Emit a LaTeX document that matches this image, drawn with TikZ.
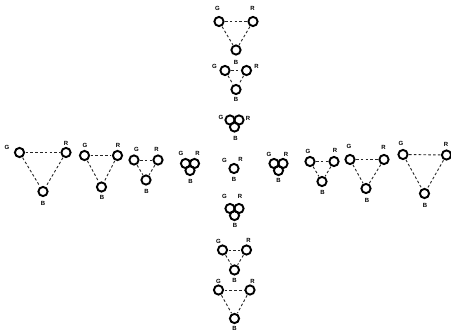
\documentclass[tikz,border=0pt]{standalone}
\usepackage{fontspec}
\setmainfont{Liberation Sans}
\begin{document}
\begin{tikzpicture}[x=1pt,y=-1pt,
  ring/.style={circle,draw=black,line width=1.9pt,minimum size=9.2pt,inner sep=0pt},
  lab/.style={inner sep=0pt,font=\fontsize{6}{6}\selectfont\bfseries},
  link/.style={draw=black!85,line width=0.9pt,dash pattern=on 2.6pt off 2.2pt,shorten <=0.5pt,shorten >=0.5pt}]
\useasboundingbox (0,0) rectangle (451,333);
\newcommand\trioset[7]{%
  \node[ring] (#1g) at (#2) {};
  \node[ring] (#1r) at (#3) {};
  \node[ring] (#1b) at (#4) {};
  \node[lab] (#1lg) at (#5) {G};
  \node[lab] (#1lr) at (#6) {R};
  \node[lab] (#1lb) at (#7) {B};
  \draw[link] (#1g) -- (#1r);
  \draw[link] (#1g) -- (#1b);
  \draw[link] (#1r) -- (#1b);}
\newcommand\clumpset[7]{%
  \node[ring] (#1g) at (#2) {};
  \node[ring] (#1r) at (#3) {};
  \node[ring] (#1b) at (#4) {};
  \node[lab] (#1lg) at (#5) {G};
  \node[lab] (#1lr) at (#6) {R};
  \node[lab] (#1lb) at (#7) {B};}
% horizontal row
\trioset{ha}{19.5,152.5}{66,152.5}{43,191.5}{7,147}{66,143.5}{43,203}
\trioset{hb}{84.5,155.5}{117.5,155.5}{101.5,187}{85,145}{118,145}{102,197.5}
\trioset{hc}{134,160}{158,160}{146,180}{136.5,149.5}{156.5,149.5}{146.5,191}
\clumpset{hd}{185.5,163.5}{194.5,163.5}{190,170.5}{181,153.5}{197.5,153.5}{190.5,181}
\node[ring] (cc) at (234,168.5) {};
\node[lab] (ccg) at (224.5,160.5) {G};
\node[lab] (ccr) at (240.5,159.5) {R};
\node[lab] (ccb) at (234,179.5) {B};
\clumpset{he}{274,163.5}{283,163.5}{278.5,170.5}{269,154.5}{286,154.5}{278.5,180.5}
\trioset{hf}{310,161.5}{334,161.5}{322,181.5}{308,151.5}{335,150.5}{322.5,192.5}
\trioset{hg}{350,159.5}{384,159.5}{366,188.5}{349,146}{383.5,147.5}{367,200}
\trioset{hh}{403,154.5}{446.5,155}{424.5,193.5}{401,143}{446,144}{425,205}
% vertical column
\trioset{va}{219,21.5}{253,21.5}{236,50}{217.5,8}{252.5,8}{236,62}
\trioset{vb}{225,70.5}{246.5,70.5}{236,89.5}{214.5,66}{256.5,66}{236,99.5}
\clumpset{vc}{230,120}{239,120}{234.5,127}{221,117.5}{248,118}{235.5,138}
\clumpset{vd}{230,208.5}{239,208.5}{234.5,215.5}{224.5,196}{240,196}{235,225}
\trioset{ve}{222.5,250}{246.5,250}{234.5,270}{218.5,241}{248.5,240}{234.5,280}
\trioset{vf}{218.5,290}{250,290}{234.5,318.5}{218.5,281}{252.5,281}{234.5,328.5}
\end{tikzpicture}
\end{document}
